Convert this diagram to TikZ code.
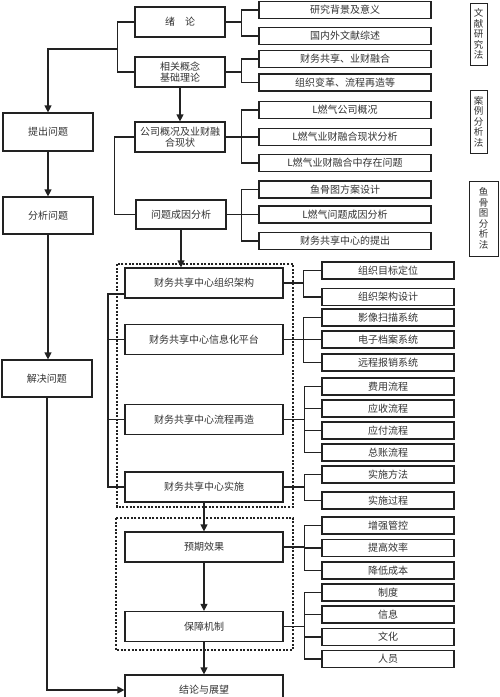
\documentclass[tikz,border=0pt]{standalone}
\usepackage{fontspec}
\newfontfamily\cjk{Noto Sans CJK SC}
\usetikzlibrary{arrows.meta,calc}
\definecolor{ln}{HTML}{222222}
\definecolor{tx}{HTML}{333333}
\tikzset{
  box/.style={draw=ln, line width=1.2pt, fill=white, inner sep=0pt, align=center,
    font=\cjk\fontsize{10}{11.5}\selectfont, text=tx},
  subA/.style={box, minimum width=172pt, minimum height=17pt},
  subB/.style={box, minimum width=132pt, minimum height=17pt},
  mainbox/.style={box, minimum width=90pt, minimum height=30pt},
  widebox/.style={box, minimum width=158pt, minimum height=30pt},
  leftbox/.style={box, minimum width=90pt, minimum height=37pt},
  vlab/.style={box, line width=1pt, font=\cjk\fontsize{9.5}{10.5}\selectfont},
  conn/.style={draw=ln, line width=1.2pt},
  arr/.style={conn, -{Triangle[length=7pt,width=7pt]}},
  dotbox/.style={draw=ln, line width=1.2pt, dash pattern=on 2pt off 1.6pt},
}
\begin{document}
\begin{tikzpicture}[x=1pt,y=-1pt]
\useasboundingbox[fill=white] (0,0) rectangle (500,697);

% dotted groups
\draw[dotbox] (117,264) rectangle (293,507);
\draw[dotbox] (116,518) rectangle (293,650);

% left column
\node[leftbox, minimum height=38pt] (tc) at (48,132) {提出问题};
\node[leftbox] (fx) at (48,215.5) {分析问题};
\node[leftbox] (jj) at (47,378.5) {解决问题};

% upper middle column
\node[mainbox] (xl) at (180,22) {绪\quad 论};
\node[mainbox] (xg) at (180,72) {相关概念\\基础理论};
\node[mainbox] (gs) at (180,137) {公司概况及业财融\\合现状};
\node[mainbox, minimum height=29pt] (wt) at (181,214.5) {问题成因分析};

% upper right column
\node[subA] (a1) at (345,10) {研究背景及意义};
\node[subA] (a2) at (345,36) {国内外文献综述};
\node[subA] (a3) at (345,59) {财务共享、业财融合};
\node[subA] (a4) at (345,82.5) {组织变革、流程再造等};
\node[subA] (a5) at (345,110) {L燃气公司概况};
\node[subA] (a6) at (345,137) {L燃气业财融合现状分析};
\node[subA] (a7) at (345,163) {L燃气业财融合中存在问题};
\node[subA] (a8) at (345,189.5) {鱼骨图方案设计};
\node[subA] (a9) at (345,214.5) {L燃气问题成因分析};
\node[subA] (a10) at (345,241) {财务共享中心的提出};

% method labels
\node[vlab, minimum width=17pt, minimum height=62pt] (v1) at (478.5,34) {文\\献\\研\\究\\法};
\node[vlab, minimum width=17pt, minimum height=63pt] (v2) at (478.5,121.5) {案\\例\\分\\析\\法};
\node[vlab, minimum width=29pt, minimum height=75pt] (v3) at (483.5,218.5) {鱼\\骨\\图\\分\\析\\法};

% lower middle column
\node[widebox] (m1) at (204,283) {财务共享中心组织架构};
\node[widebox] (m2) at (204,339.5) {财务共享中心信息化平台};
\node[widebox] (m3) at (204,419.5) {财务共享中心流程再造};
\node[widebox] (m4) at (204,487) {财务共享中心实施};
\node[widebox] (m5) at (204,547) {预期效果};
\node[widebox] (m6) at (204,626.5) {保障机制};
\node[widebox] (m7) at (204,690) {结论与展望};

% lower right column
\node[subB] (b1) at (388,270.5) {组织目标定位};
\node[subB] (b2) at (388,297) {组织架构设计};
\node[subB] (b3) at (388,317.5) {影像扫描系统};
\node[subB] (b4) at (388,339.5) {电子档案系统};
\node[subB] (b5) at (388,362.5) {远程报销系统};
\node[subB] (b6) at (388,386.5) {费用流程};
\node[subB] (b7) at (388,408.5) {应收流程};
\node[subB] (b8) at (388,430.5) {应付流程};
\node[subB] (b9) at (388,452.5) {总账流程};
\node[subB] (b10) at (388,474.5) {实施方法};
\node[subB] (b11) at (388,500.5) {实施过程};
\node[subB] (b12) at (388,525.5) {增强管控};
\node[subB] (b13) at (388,548) {提高效率};
\node[subB] (b14) at (388,570.5) {降低成本};
\node[subB] (b15) at (388,592.5) {制度};
\node[subB] (b16) at (388,614.5) {信息};
\node[subB] (b17) at (388,637) {文化};
\node[subB] (b18) at (388,659) {人员};

% brackets: upper column
\draw[conn] (xl.west) -- ++(-17,0) coordinate (k0) -- (k0 |- xg.west) -- (xg.west);
\coordinate (kt) at (118,49);
\draw[arr] (kt) -| (tc.north);
\draw[arr] (xg.south) -- (gs.north);
\draw[conn] (gs.west) -- ++(-20,0) coordinate (kq) |- (wt.west);
\draw[arr] (wt.south) -- (wt.south |- m1.north);

% brackets: upper right
\draw[conn] (a1.west) -- ++(-17,0) coordinate (k1) -- (k1 |- a2.west) -- (a2.west);
\draw[conn] (xl.east) -- (xl.east -| k1);
\draw[conn] (a3.west) -- ++(-17,0) coordinate (k2) -- (k2 |- a4.west) -- (a4.west);
\draw[conn] (xg.east) -- (xg.east -| k2);
\draw[conn] (a5.west) -- ++(-17,0) coordinate (k3) -- (k3 |- a7.west) -- (a7.west);
\draw[conn] (k3 |- a6.west) -- (a6.west);
\draw[conn] (gs.east) -- (gs.east -| k3);
\draw[conn] (a8.west) -- ++(-17,0) coordinate (k4) -- (k4 |- a10.west) -- (a10.west);
\draw[conn] (k4 |- a9.west) -- (a9.west);
\draw[conn] (wt.east) -- (wt.east -| k4);

% left spine
\draw[arr] (tc.south) -- (fx.north);
\draw[arr] (fx.south) -- (fx.south |- jj.north);
\draw[arr] (jj.south) |- (m7.west);

% bracket left of the four centre boxes
\coordinate (lb) at (108,294);
\draw[conn] (m1.west |- lb) -- (lb) -- (lb |- m4.west) -- (m4.west);
\draw[conn] (lb |- m2.west) -- (m2.west);
\draw[conn] (lb |- m3.west) -- (m3.west);

% lower arrows
\draw[arr] (m4.south) -- (m5.north);
\draw[arr] (m5.south) -- (m6.north);
\draw[arr] (m6.south) -- (m7.north);

% brackets: lower right
\draw[conn] (b1.west) -- ++(-18,0) coordinate (c1) -- (c1 |- b2.west) -- (b2.west);
\draw[conn] (m1.east) -- (m1.east -| c1);
\draw[conn] (b3.west) -- ++(-18,0) coordinate (c2) -- (c2 |- b5.west) -- (b5.west);
\draw[conn] (c2 |- b4.west) -- (b4.west);
\draw[conn] (m2.east) -- (m2.east -| c2);
\draw[conn] (b6.west) -- ++(-17,0) coordinate (c3) -- (c3 |- b9.west) -- (b9.west);
\draw[conn] (c3 |- b7.west) -- (b7.west);
\draw[conn] (c3 |- b8.west) -- (b8.west);
\draw[conn] (m3.east) -- (m3.east -| c3);
\draw[conn] (b10.west) -- ++(-17,0) coordinate (c4) -- (c4 |- b11.west) -- (b11.west);
\draw[conn] (m4.east) -- (m4.east -| c4);
\draw[conn] (b12.west) -- ++(-17,0) coordinate (c5) -- (c5 |- b14.west) -- (b14.west);
\draw[conn] (c5 |- b13.west) -- (b13.west);
\draw[conn] (m5.east) -- (m5.east -| c5);
\draw[conn] (b15.west) -- ++(-17,0) coordinate (c6) -- (c6 |- b18.west) -- (b18.west);
\draw[conn] (c6 |- b16.west) -- (b16.west);
\draw[conn] (c6 |- b17.west) -- (b17.west);
\draw[conn] (m6.east) -- (m6.east -| c6);
\end{tikzpicture}
\end{document}
